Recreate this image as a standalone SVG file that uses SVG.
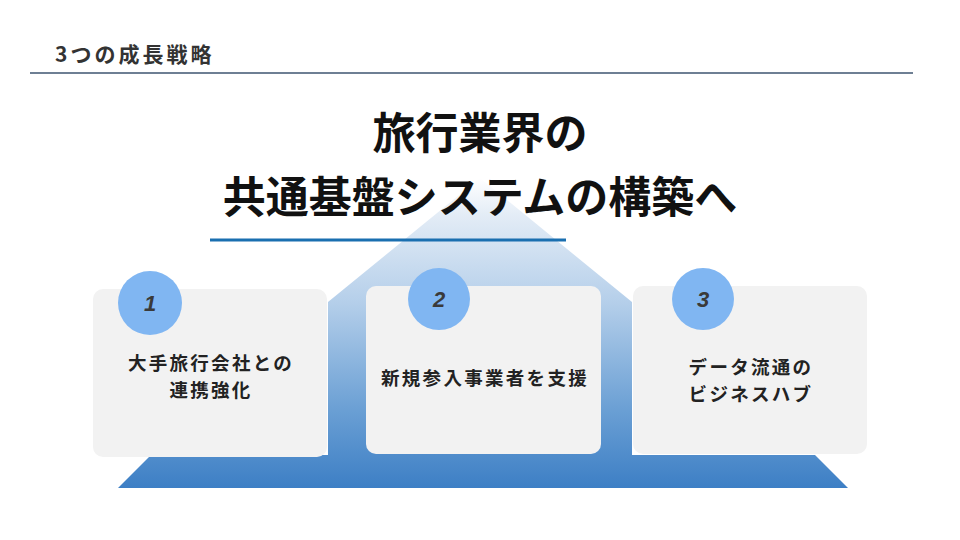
<svg xmlns="http://www.w3.org/2000/svg" width="960" height="540" viewBox="0 0 960 540">
  <defs>
    <linearGradient id="pyr" gradientUnits="userSpaceOnUse" x1="0" y1="178" x2="0" y2="488">
      <stop offset="0" stop-color="#ffffff"/>
      <stop offset="0.12" stop-color="#e3ecf6"/>
      <stop offset="0.4" stop-color="#b5cfea"/>
      <stop offset="0.75" stop-color="#6a9fd4"/>
      <stop offset="1" stop-color="#3d7fc5"/>
    </linearGradient>
    <style>
      .hdr { font-family: "Noto Sans CJK JP", "Liberation Sans", sans-serif; font-weight: 700; font-size: 21px; letter-spacing: 3px; fill: #333333; }
      .title { font-family: "Noto Sans CJK JP", "Liberation Sans", sans-serif; font-weight: 700; font-size: 43px; fill: #111111; text-anchor: middle; }
      .card { fill: #f2f2f2; }
      .badge { fill: #80b6f2; }
      .num { font-family: "Liberation Sans", "Noto Sans", sans-serif; font-weight: 700; font-style: italic; font-size: 22px; fill: #3a3a3a; text-anchor: middle; }
      .lbl { font-family: "Noto Sans CJK JP", "Liberation Sans", sans-serif; font-weight: 700; font-size: 18.5px; letter-spacing: 2.3px; fill: #222222; text-anchor: middle; }
    </style>
  </defs>
  <rect width="960" height="540" fill="#ffffff"/>

  <g id="header">
    <text class="hdr" x="55" y="62">3つの成長戦略</text>
    <line x1="30" y1="73" x2="913" y2="73" stroke="#3e5470" stroke-width="1.4"/>
  </g>

  <g id="pyramid">
    <polygon fill="url(#pyr)" points="480,178 632,302 632,455 815,455 848,488 118,488 151,455 328,455 328,302"/>
  </g>

  <g id="title">
    <text class="title" x="480" y="149">旅行業界の</text>
    <text class="title" x="480" y="213">共通基盤システムの構築へ</text>
    <line x1="210" y1="240" x2="566" y2="240" stroke="#1a6fb0" stroke-width="3"/>
  </g>

  <g id="connectors"></g>

  <g id="node1">
    <rect class="card" x="93" y="289" width="234" height="168" rx="10"/>
    <circle class="badge" cx="150" cy="303" r="32"/>
    <text class="num" x="150" y="311">1</text>
    <text class="lbl" x="211" y="370">大手旅行会社との</text>
    <text class="lbl" x="211" y="397">連携強化</text>
  </g>

  <g id="node2">
    <rect class="card" x="366" y="286" width="235" height="168" rx="10"/>
    <circle class="badge" cx="439" cy="299" r="31"/>
    <text class="num" x="439" y="307">2</text>
    <text class="lbl" x="485" y="385">新規参入事業者を支援</text>
  </g>

  <g id="node3">
    <rect class="card" x="633" y="286" width="234" height="168" rx="10"/>
    <circle class="badge" cx="703" cy="299" r="31"/>
    <text class="num" x="703" y="307">3</text>
    <text class="lbl" x="751" y="374">データ流通の</text>
    <text class="lbl" x="751" y="401">ビジネスハブ</text>
  </g>
</svg>
